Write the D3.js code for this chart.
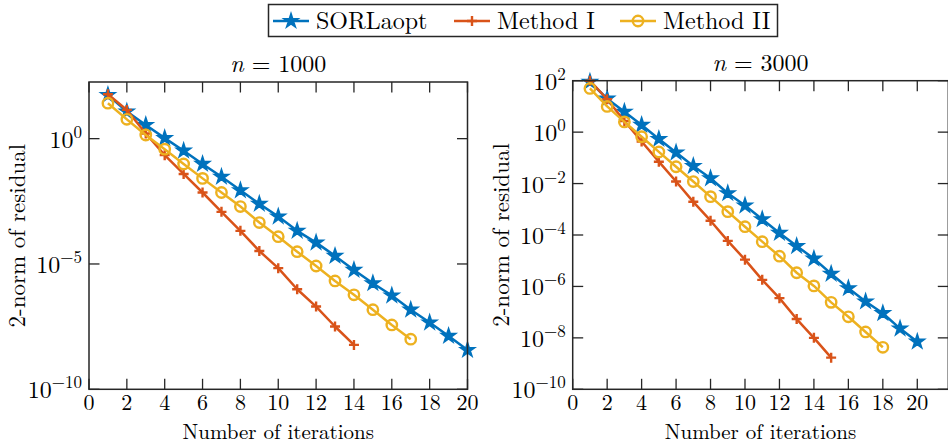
<!DOCTYPE html>
<html><head><meta charset="utf-8">
<script src="https://cdn.jsdelivr.net/npm/d3@7"></script>
<style>
html,body{margin:0;padding:0;background:#fff;}
text{font-family:"Latin Modern Roman","CMU Serif","Liberation Serif",serif;fill:#000;}
</style></head><body>
<svg id="c" width="948" height="445"></svg>
<script>
// ---- data ----
const seriesNames = ["SORLaopt", "Method I", "Method II"];
const seriesColors = ["#0072BD", "#D95319", "#EDB120"];
const panelTitles = ["1000", "3000"];
const xTicks = [0, 2, 4, 6, 8, 10, 12, 14, 16, 18, 20];
const yTickExpLeft = [0, -5, -10];
const yTickExpRight = [2, 0, -2, -4, -6, -8, -10];

// n = 1000
const sor1000 = [5.5e1, 1.2e1, 3.5e0, 1.05e0, 3.3e-1, 9.8e-2, 3.0e-2, 8.7e-3, 2.5e-3, 7.8e-4,
                 2.1e-4, 7.1e-5, 2.1e-5, 5.8e-6, 1.7e-6, 5.5e-7, 1.5e-7, 4.6e-8, 1.35e-8, 3.7e-9];
const m1_1000 = [5.9e1, 1.4e1, 1.6e0, 2.2e-1, 3.9e-2, 7.1e-3, 1.2e-3, 2.1e-4, 3.3e-5, 6.8e-6,
                 9.8e-7, 2.0e-7, 3.2e-8, 5.9e-9];
const m2_1000 = [2.6e1, 5.9e0, 1.4e0, 3.8e-1, 9.8e-2, 2.6e-2, 7.1e-3, 1.95e-3, 4.5e-4, 1.23e-4,
                 3.1e-5, 8.3e-6, 2.1e-6, 5.9e-7, 1.5e-7, 3.7e-8, 1.0e-8];
// n = 3000
const sor3000 = [9.1e1, 2.0e1, 6.2e0, 1.9e0, 5.4e-1, 1.6e-1, 4.8e-2, 1.6e-2, 4.2e-3, 1.4e-3,
                 4.1e-4, 1.2e-4, 3.7e-5, 1.2e-5, 3.1e-6, 8.5e-7, 2.6e-7, 9.1e-8, 2.3e-8, 7.1e-9];
const m1_3000 = [1.0e2, 1.9e1, 2.7e0, 4.3e-1, 7.1e-2, 1.2e-2, 1.95e-3, 3.6e-4, 5.9e-5, 1.1e-5,
                 1.8e-6, 3.5e-7, 5.4e-8, 1.0e-8, 1.7e-9];
const m2_3000 = [5.0e1, 1.0e1, 2.5e0, 6.6e-1, 1.7e-1, 4.5e-2, 1.2e-2, 3.1e-3, 8.1e-4, 2.1e-4,
                 5.5e-5, 1.5e-5, 3.4e-6, 1.05e-6, 2.4e-7, 6.6e-8, 1.7e-8, 4.3e-9];

// ---- drawing ----
const svg = d3.select("#c");
const AX = "#262626";

const panels = [
  {title: panelTitles[0], series: [sor1000, m1_1000, m2_1000], left: 89, right: 467.5, top: 82, bottom: 389.3,
   xMax: 20, yMin: 1e-10, yMax: Math.pow(10, 2.26), yTicks: yTickExpLeft, ylabX: 25},
  {title: panelTitles[1], series: [sor3000, m1_3000, m2_3000], left: 572.7, right: 948.3, top: 80.7, bottom: 389.3,
   xMax: 21.8, yMin: 1e-10, yMax: 1e2, yTicks: yTickExpRight, ylabX: 509}
];

function drawMarker(g, type, color, cx, cy) {
  if (type === 0) {
    g.append("path").attr("d", d3.symbol(d3.symbolStar, 62)())
      .attr("transform", `translate(${cx},${cy})`)
      .attr("fill", color).attr("stroke", color).attr("stroke-width", 1.6).attr("stroke-linejoin", "miter");
  } else if (type === 1) {
    const r = 5;
    g.append("path").attr("d", `M${cx - r},${cy}H${cx + r}M${cx},${cy - r}V${cy + r}`)
      .attr("stroke", color).attr("stroke-width", 2.4).attr("fill", "none");
  } else {
    g.append("circle").attr("cx", cx).attr("cy", cy).attr("r", 5.2)
      .attr("fill", "none").attr("stroke", color).attr("stroke-width", 2.4);
  }
}

function supLabel(sel, exp) {
  sel.append("tspan").text("10");
  sel.append("tspan").attr("font-size", 17).attr("dy", -10)
    .text(exp < 0 ? "\u2212" + (-exp) : String(exp));
}

panels.forEach(p => {
  const x = d3.scaleLinear().domain([0, p.xMax]).range([p.left, p.right]);
  const y = d3.scaleLog().domain([p.yMin, p.yMax]).range([p.bottom, p.top]);
  const g = svg.append("g");
  const TL = 10.5;

  // series
  p.series.forEach((vals, si) => {
    const data = vals.map((v, i) => ({x: i + 1, y: v}));
    const line = d3.line().x(d => x(d.x)).y(d => y(d.y));
    g.append("path").datum(data).attr("d", line).attr("fill", "none")
      .attr("stroke", seriesColors[si]).attr("stroke-width", 2.5).attr("stroke-linejoin", "round");
    data.forEach(d => drawMarker(g, si, seriesColors[si], x(d.x), y(d.y)));
  });

  // box
  g.append("rect").attr("x", p.left).attr("y", p.top).attr("width", p.right - p.left).attr("height", p.bottom - p.top)
    .attr("fill", "none").attr("stroke", AX).attr("stroke-width", 1.5);

  // x ticks (bottom and top, inward)
  xTicks.forEach(t => {
    const xp = x(t);
    g.append("line").attr("x1", xp).attr("x2", xp).attr("y1", p.bottom).attr("y2", p.bottom - TL)
      .attr("stroke", AX).attr("stroke-width", 1.3);
    g.append("line").attr("x1", xp).attr("x2", xp).attr("y1", p.top).attr("y2", p.top + TL)
      .attr("stroke", AX).attr("stroke-width", 1.3);
    g.append("text").attr("x", xp).attr("y", p.bottom + 21).attr("text-anchor", "middle")
      .attr("font-size", 22).text(t);
  });

  // y ticks (left and right, inward)
  p.yTicks.forEach(e => {
    const yp = y(Math.pow(10, e));
    g.append("line").attr("x1", p.left).attr("x2", p.left + TL).attr("y1", yp).attr("y2", yp)
      .attr("stroke", AX).attr("stroke-width", 1.3);
    g.append("line").attr("x1", p.right).attr("x2", p.right - TL).attr("y1", yp).attr("y2", yp)
      .attr("stroke", AX).attr("stroke-width", 1.3);
    const t = g.append("text").attr("x", p.left - 7).attr("y", yp + 9).attr("text-anchor", "end")
      .attr("font-size", 24);
    supLabel(t, e);
  });

  // title
  const cx = (p.left + p.right) / 2;
  const tt = g.append("text").attr("x", cx).attr("y", p.top - 10).attr("text-anchor", "middle").attr("font-size", 24);
  tt.append("tspan").attr("font-style", "italic").text("n");
  tt.append("tspan").text(" = " + p.title);

  // axis labels
  g.append("text").attr("x", cx).attr("y", p.bottom + 50).attr("text-anchor", "middle")
    .attr("font-size", 21).text("Number of iterations");
  g.append("text").attr("transform", `translate(${p.ylabX},${(p.top + p.bottom) / 2}) rotate(-90)`)
    .attr("text-anchor", "middle").attr("font-size", 23).text("2-norm of residual");
});

// legend
const lg = svg.append("g");
lg.append("rect").attr("x", 268.5).attr("y", 4.5).attr("width", 509).attr("height", 32)
  .attr("fill", "#fff").attr("stroke", AX).attr("stroke-width", 1.5);
const legendX = [273, 454, 620];
seriesNames.forEach((name, i) => {
  const x0 = legendX[i], yl = 21;
  lg.append("line").attr("x1", x0).attr("x2", x0 + 36).attr("y1", yl).attr("y2", yl)
    .attr("stroke", seriesColors[i]).attr("stroke-width", 2.5);
  drawMarker(lg, i, seriesColors[i], x0 + 18, yl);
  lg.append("text").attr("x", x0 + 43).attr("y", yl + 8).attr("font-size", 24).text(name);
});
</script>
</body></html>
